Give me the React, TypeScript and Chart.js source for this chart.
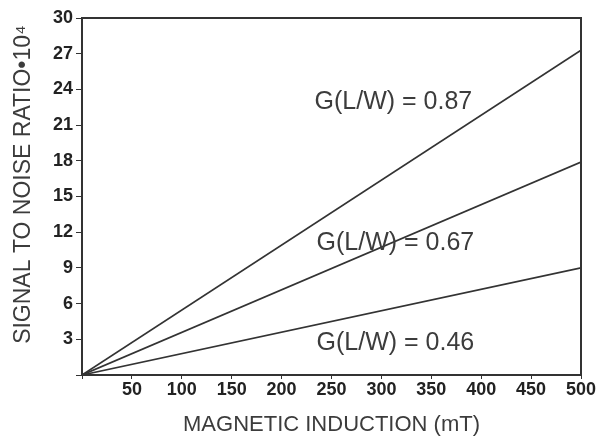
import React, { useEffect, useRef } from "react";
import { Chart, registerables } from "chart.js";

Chart.register(...registerables);

// Magnetic induction (mT) at the ends of each measured line
const inductionMT = [0, 500];
// Signal-to-noise ratio (x10^4) for each geometry factor
const ratioG087 = [0, 27.3];
const ratioG067 = [0, 17.9];
const ratioG046 = [0, 9.0];
const seriesNames = ["G(L/W) = 0.87", "G(L/W) = 0.67", "G(L/W) = 0.46"];
// Where each series caption sits, in data units
const captionX = [312, 314, 314];
const captionY = [22.9, 11.1, 2.7];
const yTitle = "SIGNAL TO NOISE RATIO•10⁴";
const xTitle = "MAGNETIC INDUCTION (mT)";

const INK = "#333333";
const SANS = "'Liberation Sans', Arial, sans-serif";

const toPoints = (ys: number[]) => ys.map((y, i) => ({ x: inductionMT[i], y }));

// Closed frame round the plot area, the series captions and the vertical axis title
const framePlugin = {
  id: "frameAndCaptions",
  afterDatasetsDraw(chart: any) {
    const { ctx, chartArea: a, scales } = chart;
    ctx.save();
    ctx.strokeStyle = INK;
    ctx.lineWidth = 2;
    ctx.strokeRect(a.left, a.top, a.right - a.left, a.bottom - a.top);
    ctx.font = `25px ${SANS}`;
    ctx.fillStyle = "#3c3c3c";
    ctx.textAlign = "center";
    ctx.textBaseline = "middle";
    seriesNames.forEach((name, i) => {
      ctx.fillText(name, scales.x.getPixelForValue(captionX[i]), scales.y.getPixelForValue(captionY[i]));
    });
    // vertical title, sitting a little above the plot's middle
    ctx.font = `23px ${SANS}`;
    ctx.translate(24, (a.top + a.bottom) / 2 - 12);
    ctx.rotate(-Math.PI / 2);
    ctx.fillText(yTitle, 0, 0);
    ctx.restore();
  },
};

export default function App() {
  const ref = useRef<HTMLCanvasElement | null>(null);

  useEffect(() => {
    document.body.style.margin = "0";
    const canvas = ref.current;
    if (!canvas) return;
    const lineStyle = {
      borderColor: INK,
      borderWidth: 1.7,
      pointRadius: 0,
      showLine: true,
      fill: false,
      tension: 0,
    };
    const tickFont = { family: SANS, size: 18, weight: "bold" as const };
    const chart = new Chart(canvas, {
      type: "scatter",
      data: {
        datasets: [
          { label: seriesNames[0], data: toPoints(ratioG087), ...lineStyle },
          { label: seriesNames[1], data: toPoints(ratioG067), ...lineStyle },
          { label: seriesNames[2], data: toPoints(ratioG046), ...lineStyle },
        ],
      },
      options: {
        animation: false,
        responsive: false,
        layout: { padding: { top: 18, right: 22, bottom: 0, left: 0 } },
        plugins: { legend: { display: false }, tooltip: { enabled: false } },
        scales: {
          x: {
            type: "linear",
            min: 0,
            max: 500,
            ticks: {
              stepSize: 50,
              autoSkip: false,
              maxRotation: 0,
              padding: 0,
              color: "#222",
              font: tickFont,
              callback: (v: any) => (v === 0 ? "" : String(v)),
            },
            grid: { drawOnChartArea: false, drawTicks: true, tickLength: 4, color: INK },
            border: { color: INK, width: 2 },
            title: {
              display: true,
              text: xTitle,
              color: "#3c3c3c",
              font: { family: SANS, size: 22 },
              padding: { top: 0, bottom: 1 },
            },
            afterFit: (s: any) => {
              s.height = 64;
            },
          },
          y: {
            type: "linear",
            min: 0,
            max: 30,
            ticks: {
              stepSize: 3,
              autoSkip: false,
              padding: 3,
              color: "#222",
              font: tickFont,
              callback: (v: any) => (v === 0 ? "" : String(v)),
            },
            grid: { drawOnChartArea: false, drawTicks: true, tickLength: 6, color: INK },
            border: { color: INK, width: 2 },
            title: { display: false },
            afterFit: (s: any) => {
              s.width = 82;
            },
          },
        },
      },
      plugins: [framePlugin],
    });
    return () => chart.destroy();
  }, []);

  return (
    <div style={{ width: 603, height: 439 }}>
      <canvas ref={ref} width={603} height={439} />
    </div>
  );
}
